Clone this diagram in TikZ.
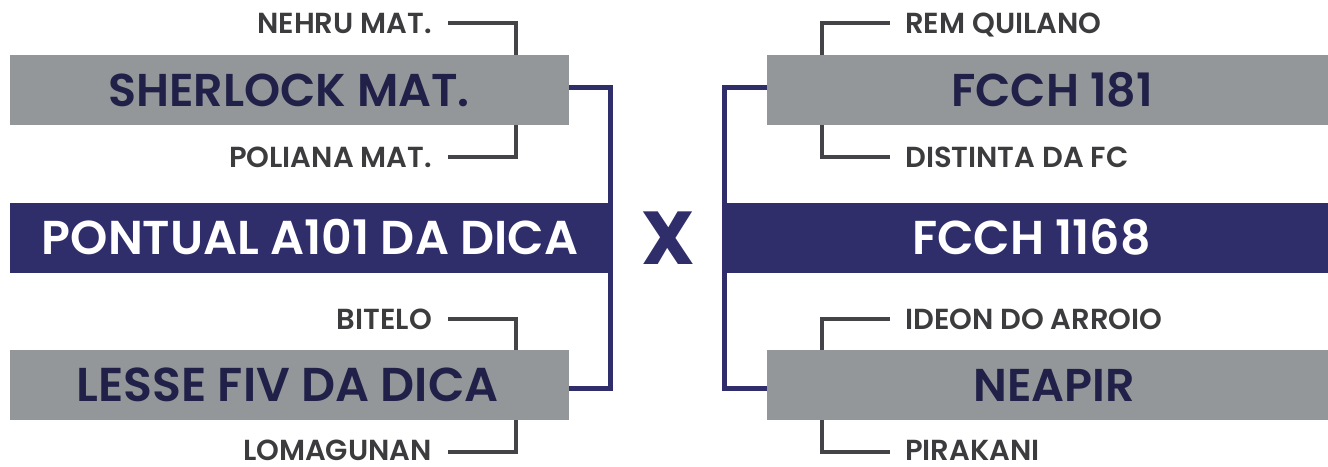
\documentclass[tikz,border=0pt]{standalone}
\usepackage{fontspec}
\setmainfont{Poppins}
\newfontfamily\popsemi{Poppins SemiBold}
\definecolor{boxgray}{RGB}{147,151,153}
\definecolor{navy}{RGB}{47,46,106}
\definecolor{textnavy}{RGB}{33,32,72}
\definecolor{labgray}{RGB}{60,60,63}
\definecolor{linegray}{RGB}{68,68,72}
\begin{document}
\begin{tikzpicture}[x=1pt,y=-1pt,
  gbox/.style={fill=boxgray, inner sep=0pt, minimum height=70pt},
  nbox/.style={fill=navy, inner sep=0pt, minimum height=70pt, text=white,
    font=\popsemi\fontsize{47.5}{47.5}\selectfont, text height=32pt, text depth=0pt},
  gtext/.style={inner sep=0pt, text=textnavy,
    font=\popsemi\fontsize{46}{46}\selectfont, text height=32pt, text depth=0pt},
  lab/.style={text=labgray, inner sep=0pt, font=\popsemi\fontsize{29}{29}\selectfont,
    text height=20pt, text depth=0pt},
  bracket/.style={draw=linegray, line width=4pt},
  blueline/.style={draw=navy, line width=5pt},
  vs/.style={text=navy, inner sep=0pt, font=\bfseries\fontsize{75}{75}\selectfont,
    text height=52pt, text depth=0pt}]
\useasboundingbox (0,0) rectangle (1328,466);
% boxes
\node[gbox, minimum width=559pt] (sher) at (289.5,90) {};
\node[gtext] (shert) at (289,90) {SHERLOCK MAT.};
\node[gbox, minimum width=559pt] (lesse) at (289.5,385) {};
\node[gtext, font=\popsemi\fontsize{47.5}{47.5}\selectfont] (lesset) at (287.5,385) {LESSE FIV DA DICA};
\node[nbox, minimum width=600pt] (pont) at (310,238) {PONTUAL A101 DA DICA};
\node[gbox, minimum width=561pt] (f181) at (1047.5,90) {};
\node[gtext] (f181t) at (1052,90) {FCCH 181};
\node[gbox, minimum width=561pt] (neapir) at (1047.5,385) {};
\node[gtext] (neapirt) at (1054,385) {NEAPIR};
\node[nbox, minimum width=603pt] (f1168) at (1026.5,238) {};
\node[nbox, fill=none, minimum height=0pt] (f1168t) at (1031.5,238) {FCCH 1168};
\node[vs] (x) at (668,238) {X};
% labels
\node[lab, anchor=east] (nehru) at (432,23) {NEHRU MAT.};
\node[lab, anchor=east] (poliana) at (432,157) {POLIANA MAT.};
\node[lab, anchor=east] (bitelo) at (432,319) {BITELO};
\node[lab, anchor=east] (loma) at (432,450) {LOMAGUNAN};
\node[lab, anchor=west] (rem) at (905,23) {REM QUILANO};
\node[lab, anchor=west] (dist) at (905,157) {DISTINTA DA FC};
\node[lab, anchor=west] (ideon) at (905,319) {IDEON DO ARROIO};
\node[lab, anchor=west] (pira) at (905,450) {PIRAKANI};
% bracket coordinates
\coordinate (lb) at (516,0);
\coordinate (rb) at (822,0);
\coordinate (tb) at (0,87);
\coordinate (bb) at (0,388);
\coordinate (bl) at (0,452);
% small brackets
\draw[bracket] ([xshift=16pt]nehru.east) -| (sher.north -| lb);
\draw[bracket] ([xshift=16pt]poliana.east) -| (sher.south -| lb);
\draw[bracket] ([xshift=16pt]bitelo.east) -| (lesse.north -| lb);
\draw[bracket] ([xshift=16pt]loma.east |- bl) -| (lesse.south -| lb);
\draw[bracket] ([xshift=-15pt]rem.west) -| (f181.north -| rb);
\draw[bracket] ([xshift=-15pt]dist.west) -| (f181.south -| rb);
\draw[bracket] ([xshift=-15pt]ideon.west) -| (neapir.north -| rb);
\draw[bracket] ([xshift=-15pt]pira.west |- bl) -| (neapir.south -| rb);
% blue brackets
\draw[blueline] (sher.east |- tb) -| (pont.east) |- (lesse.east |- bb);
\draw[blueline] (f181.west |- tb) -| (f1168.west) |- (neapir.west |- bb);
\end{tikzpicture}
\end{document}
